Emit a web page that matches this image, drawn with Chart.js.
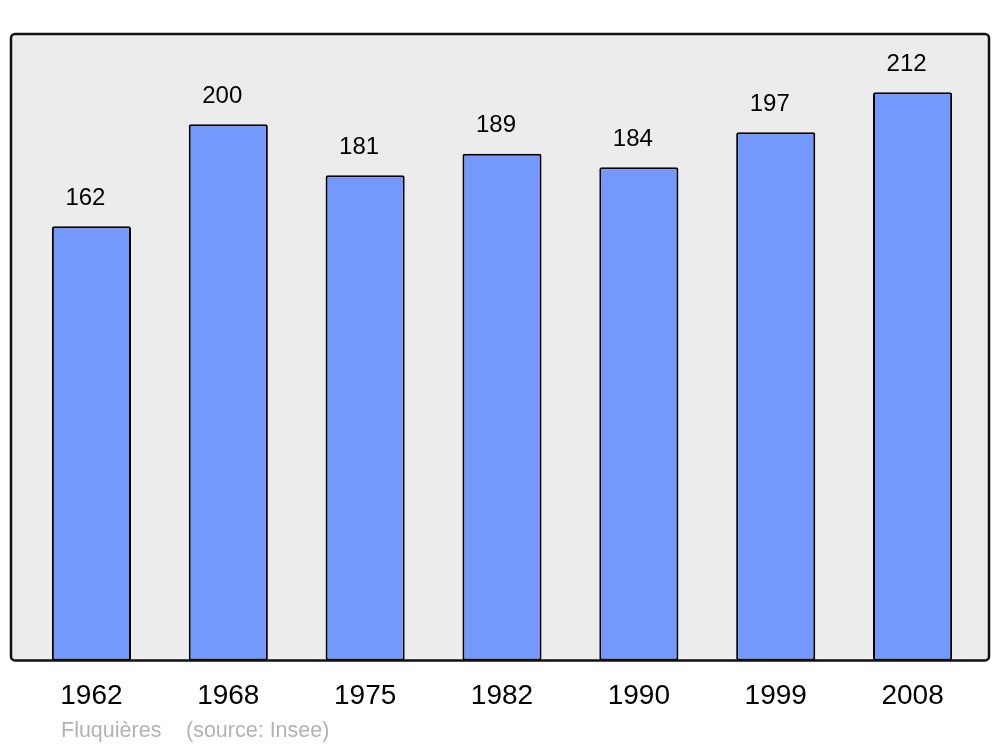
<!DOCTYPE html>
<html>
<head>
<meta charset="utf-8">
<script src="https://cdn.jsdelivr.net/npm/chart.js@4"></script>
<style>
  html, body { margin: 0; padding: 0; background: #fff; }
  #wrap { width: 1000px; height: 747px; }
</style>
</head>
<body>
<div id="wrap"><canvas id="pop"></canvas></div>
<script>
// data
var years = ['1962', '1968', '1975', '1982', '1990', '1999', '2008'];
var population = [162, 200, 181, 189, 184, 197, 212];
var footerText = ['Fluquières', '(source: Insee)'];

// grey panel with a dark frame round the plot
var framePlugin = {
  id: 'frame',
  box: function (chart) {
    var a = chart.chartArea;
    return { x: a.left - 12, y: a.top, w: a.right - a.left + 20, h: a.bottom - a.top };
  },
  beforeDatasetsDraw: function (chart) {
    var b = this.box(chart), ctx = chart.ctx;
    ctx.save();
    ctx.fillStyle = '#ececec';
    ctx.beginPath();
    ctx.roundRect(b.x, b.y, b.w, b.h, 4);
    ctx.fill();
    ctx.restore();
  },
  afterDatasetsDraw: function (chart) {
    var b = this.box(chart), ctx = chart.ctx;
    ctx.save();
    ctx.strokeStyle = '#111';
    ctx.lineWidth = 2.5;
    ctx.beginPath();
    ctx.roundRect(b.x, b.y, b.w, b.h, 4);
    ctx.stroke();

    // values above the bars (sit a little left of centre, as in the original)
    ctx.fillStyle = '#000';
    ctx.font = '24px "Liberation Sans", Arial, sans-serif';
    ctx.textAlign = 'center';
    ctx.textBaseline = 'middle';
    chart.getDatasetMeta(0).data.forEach(function (bar, i) {
      ctx.fillText(population[i], bar.x - 6, bar.y - 28);
    });

    // footer
    ctx.fillStyle = '#b3b3b3';
    ctx.font = '21.5px "Liberation Sans", Arial, sans-serif';
    ctx.textAlign = 'left';
    ctx.fillText(footerText[0], 61, 731);
    ctx.fillText(footerText[1], 186, 731);
    ctx.restore();
  }
};

var ctx = document.getElementById('pop').getContext('2d');
var chart = new Chart(ctx, {
  type: 'bar',
  data: {
    labels: years,
    datasets: [{
      data: population,
      backgroundColor: '#7399ff',
      borderColor: '#000',
      borderWidth: 2,
      borderRadius: 2,
      borderSkipped: false,
      barPercentage: 0.578,
      categoryPercentage: 1
    }]
  },
  options: {
    responsive: true,
    maintainAspectRatio: false,
    animation: false,
    layout: { padding: { left: 23, right: 19, top: 34, bottom: 23 } },
    plugins: {
      legend: { display: false },
      tooltip: { enabled: false }
    },
    scales: {
      x: {
        grid: { display: false },
        border: { display: false },
        ticks: {
          color: '#000',
          padding: 11,
          font: { family: '"Liberation Sans", Arial, sans-serif', size: 28 }
        }
      },
      y: {
        display: false,
        min: 0,
        max: 233.7
      }
    }
  },
  plugins: [framePlugin]
});
</script>
</body>
</html>
